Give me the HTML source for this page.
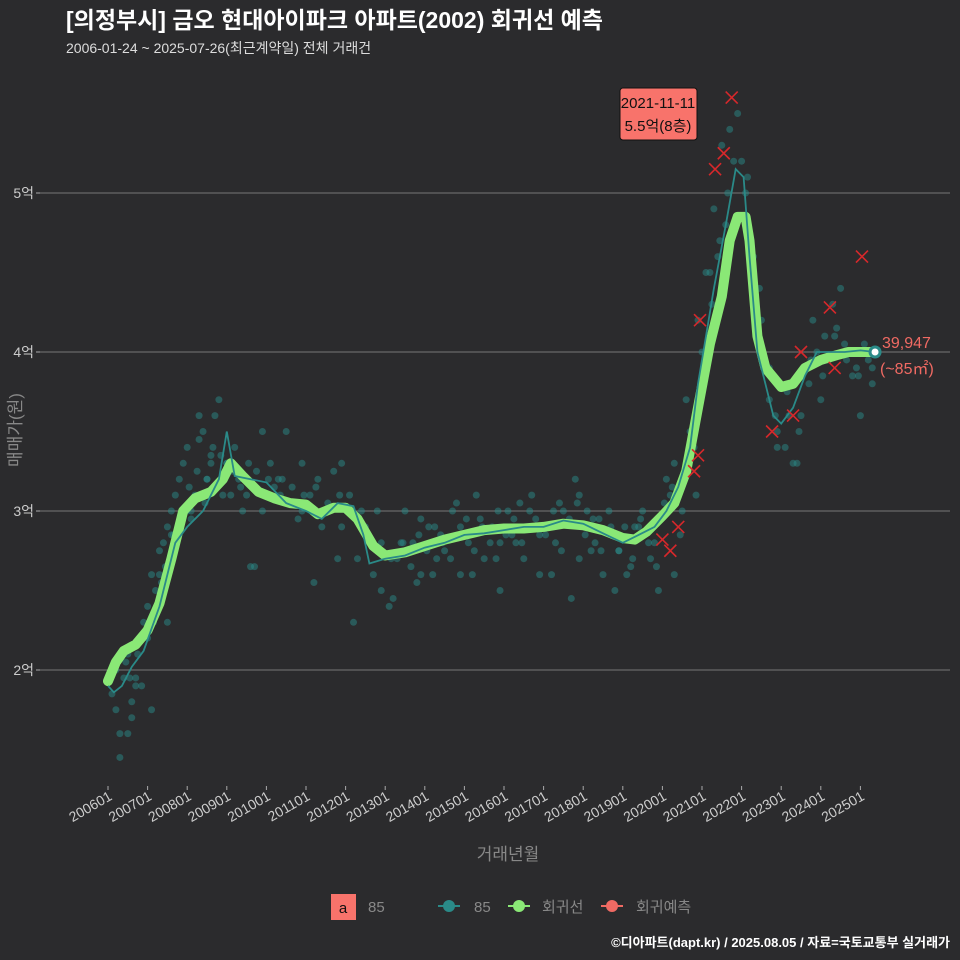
<!DOCTYPE html>
<html><head><meta charset="utf-8"><style>
html,body{margin:0;background:#2b2b2d;overflow:hidden;width:960px;height:960px;}
svg{display:block;}
svg text{font-family:"Liberation Sans","Noto Sans CJK KR",sans-serif;}
</style></head><body>
<svg id="c" width="960" height="960" viewBox="0 0 960 960" xmlns="http://www.w3.org/2000/svg">
<rect width="960" height="960" fill="#2b2b2d"/>
<text x="66" y="28" font-size="23" font-weight="bold" fill="#fff">[의정부시] 금오 현대아이파크 아파트(2002) 회귀선 예측</text>
<text x="66" y="53" font-size="14" fill="#ddd">2006-01-24 ~ 2025-07-26(최근계약일) 전체 거래건</text>
<g id="grid"></g>
<g id="pts"></g>
<g id="lines"></g>
<g id="xs"></g>
<g id="axes"></g>
<text transform="translate(21,430) rotate(-90)" text-anchor="middle" font-size="17" fill="#888">매매가(원)</text>
<text x="508" y="860" text-anchor="middle" font-size="17" fill="#888">거래년월</text>
<g>
<rect x="620" y="88" width="77" height="52" rx="3" fill="#f8736b" stroke="#111"/>
<text x="658" y="108" text-anchor="middle" font-size="15" fill="#111">2021-11-11</text>
<text x="658" y="131" text-anchor="middle" font-size="15" fill="#111">5.5억(8층)</text>
</g>
<text x="882" y="348" font-size="16" fill="#f06a63">39,947</text>
<text x="880" y="374" font-size="16" fill="#f06a63">(~85㎡)</text>
<g>
<rect x="331" y="894" width="25" height="26" fill="#f8736b"/>
<text x="343" y="913" text-anchor="middle" font-size="15" fill="#111">a</text>
<text x="368" y="912" font-size="15" fill="#888">85</text>
<g><line x1="438" y1="906" x2="460" y2="906" stroke="#2a8a88" stroke-width="2"/><circle cx="449" cy="906" r="6" fill="#2a8a88"/><text x="474" y="912" font-size="15" fill="#888">85</text></g>
<g><line x1="508" y1="906" x2="530" y2="906" stroke="#8ae876" stroke-width="2"/><circle cx="519" cy="906" r="6" fill="#8ae876"/><text x="542" y="912" font-size="15" fill="#888">회귀선</text></g>
<g><line x1="601" y1="906" x2="623" y2="906" stroke="#f06a63" stroke-width="2"/><circle cx="612" cy="906" r="6" fill="#f06a63"/><text x="636" y="912" font-size="15" fill="#888">회귀예측</text></g>
</g>
<text x="950" y="947" text-anchor="end" font-size="13" font-weight="bold" fill="#fff">©디아파트(dapt.kr) / 2025.08.05 / 자료=국토교통부 실거래가</text>
</svg>
<script>
const yTicks=[2,3,4,5];
const yTickLabels=["2억","3억","4억","5억"];
const xTickYears=[2006,2007,2008,2009,2010,2011,2012,2013,2014,2015,2016,2017,2018,2019,2020,2021,2022,2023,2024,2025];
const trendT=[2006.0,2006.2,2006.4,2006.7,2007.0,2007.3,2007.6,2007.9,2008.2,2008.6,2008.9,2009.1,2009.4,2009.8,2010.2,2010.6,2011.0,2011.3,2011.7,2012.0,2012.3,2012.7,2013.0,2013.5,2014.0,2014.5,2015.0,2015.5,2016.0,2016.5,2017.0,2017.5,2018.0,2018.5,2019.0,2019.3,2019.6,2020.0,2020.3,2020.6,2020.9,2021.2,2021.5,2021.7,2021.9,2022.1,2022.2,2022.4,2022.6,2022.8,2023.0,2023.3,2023.6,2024.0,2024.4,2024.7,2025.0,2025.37];
const trendV=[1.93,2.05,2.12,2.16,2.25,2.42,2.7,3.0,3.08,3.12,3.2,3.3,3.22,3.12,3.08,3.05,3.04,2.98,3.02,3.02,2.95,2.78,2.72,2.74,2.78,2.82,2.85,2.88,2.89,2.89,2.9,2.92,2.91,2.88,2.83,2.82,2.87,2.97,3.05,3.25,3.65,4.05,4.35,4.7,4.85,4.85,4.7,4.1,3.9,3.84,3.78,3.8,3.9,3.95,3.98,4.0,4.0,4.0];
const avgT=[2006.0,2006.15,2006.35,2006.6,2006.9,2007.3,2007.7,2008.0,2008.4,2008.8,2009.0,2009.2,2009.6,2010.0,2010.5,2011.0,2011.4,2011.8,2012.2,2012.45,2012.6,2013.0,2013.5,2014.0,2014.5,2015.0,2015.5,2016.0,2016.5,2017.0,2017.5,2018.0,2018.5,2019.0,2019.4,2019.8,2020.1,2020.4,2020.7,2020.9,2021.1,2021.3,2021.6,2021.85,2022.05,2022.2,2022.4,2022.6,2022.8,2023.0,2023.3,2023.6,2023.9,2024.2,2024.6,2025.0,2025.37];
const avgV=[1.9,1.86,1.9,2.02,2.12,2.4,2.8,2.9,3.0,3.2,3.5,3.22,3.2,3.18,3.05,3.0,2.95,3.05,3.03,2.85,2.67,2.7,2.72,2.77,2.8,2.85,2.86,2.88,2.9,2.9,2.94,2.92,2.86,2.8,2.85,2.9,3.0,3.15,3.4,3.8,4.1,4.4,4.8,5.15,5.1,4.6,4.0,3.8,3.6,3.55,3.65,3.85,4.0,4.0,4.0,4.01,4.0];
const xT=[2020.0,2020.2,2020.4,2020.8,2020.9,2020.95,2021.33,2021.55,2021.75,2022.77,2023.3,2023.5,2024.23,2024.35,2025.04];
const xV=[2.82,2.75,2.9,3.25,3.35,4.2,5.15,5.25,5.6,3.5,3.6,4.0,4.28,3.9,4.6];
const ptT=[2006.1,2006.2,2006.3,2006.4,2006.5,2006.6,2006.7,2006.8,2006.9,2007.0,2007.1,2007.2,2007.3,2007.4,2007.5,2007.6,2007.7,2007.8,2007.9,2008.0,2008.1,2008.2,2008.3,2008.4,2008.5,2008.6,2008.7,2008.8,2008.9,2009.0,2009.2,2009.3,2009.5,2009.7,2009.9,2010.1,2010.3,2010.5,2010.7,2010.9,2011.1,2011.3,2011.5,2011.7,2011.9,2012.1,2012.3,2012.5,2012.7,2012.9,2013.1,2013.3,2013.5,2013.7,2013.9,2014.1,2014.3,2014.5,2014.7,2014.9,2015.1,2015.3,2015.5,2015.7,2015.9,2016.1,2016.3,2016.5,2016.7,2016.9,2017.1,2017.3,2017.5,2017.7,2017.9,2018.1,2018.3,2018.5,2018.7,2018.9,2019.1,2019.3,2019.5,2019.7,2019.9,2020.1,2020.3,2020.5,2020.7,2020.9,2021.1,2021.3,2021.5,2021.7,2021.9,2022.1,2022.3,2022.5,2022.7,2022.9,2023.1,2023.3,2023.5,2023.7,2023.9,2024.1,2024.3,2024.5,2024.7,2024.9,2025.1,2025.3,
2006.3,2006.5,2006.7,2007.0,2007.3,2007.6,2008.0,2008.3,2008.6,2009.0,2009.4,2009.9,2010.4,2010.9,2011.4,2011.9,2012.4,2012.9,2013.4,2013.9,2014.4,2014.9,2015.4,2015.9,2016.4,2016.9,2017.4,2017.9,2018.4,2018.9,2019.4,2019.9,2020.3,2020.6,2021.0,2021.4,2021.8,2022.3,2022.7,2023.2,2023.6,2024.0,2024.4,2024.8,2025.2,
2006.2,2006.6,2007.1,2007.5,2008.1,2008.5,2009.1,2009.6,2010.2,2010.8,2011.2,2011.8,2012.2,2012.8,2013.2,2013.8,2014.2,2014.8,2015.2,2015.8,2016.2,2016.8,2017.2,2017.8,2018.2,2018.8,2019.2,2019.8,2020.2,2020.8,2021.2,2021.6,2022.0,2022.9,2023.4,2023.8,2024.2,2024.6,2025.0,2025.3,
2006.45,2006.55,2006.75,2006.85,2007.15,2007.35,2007.45,2007.65,2007.85,2008.05,2008.25,2008.45,2008.65,2008.85,2009.15,2009.35,2009.55,2009.75,2010.05,2010.35,2010.65,2010.95,2011.25,2011.55,2011.85,2012.15,2012.55,2012.85,2013.15,2013.45,2013.65,2013.85,2014.05,2014.25,2014.45,2014.65,2014.85,2015.05,2015.25,2015.45,2015.65,2015.85,2016.05,2016.25,2016.45,2016.65,2016.85,2017.05,2017.25,2017.45,2017.65,2017.85,2018.05,2018.25,2018.45,2018.65,2018.85,2019.05,2019.25,2019.45,2019.65,2019.85,2020.05,2020.25,2020.45,2020.65,2020.85,2021.05,2021.25,2021.45,2021.65,2022.15,2022.45,2022.85,2023.15,2023.45,2023.75,2024.05,2024.35,2024.65,2024.95,2025.25];
const ptV=[1.85,2.0,1.6,1.95,2.1,1.7,1.9,2.2,2.3,2.4,2.6,2.5,2.75,2.8,2.9,3.0,3.1,3.2,3.3,3.4,3.0,3.1,3.45,3.5,3.2,3.3,3.6,3.7,3.1,3.3,3.4,3.2,3.1,2.65,3.0,3.3,3.2,3.5,3.05,3.0,3.1,3.2,3.0,3.25,2.9,3.1,2.7,2.9,2.6,2.5,2.4,2.7,3.0,2.8,2.6,2.9,2.7,2.75,3.0,2.6,2.8,3.1,2.7,2.9,2.5,3.0,2.8,2.7,3.1,2.6,2.9,2.8,3.0,2.45,2.7,3.0,2.8,2.6,2.9,2.75,2.6,2.9,3.0,2.7,2.5,3.2,2.6,3.0,3.5,4.2,4.5,4.9,5.3,5.4,5.5,5.0,4.6,4.2,3.7,3.5,3.4,3.3,3.6,3.8,4.0,4.1,4.3,4.4,4.0,3.9,4.05,3.8,
1.45,1.6,1.95,2.2,2.6,2.85,3.0,3.6,3.35,3.3,3.0,3.5,3.2,3.3,2.9,3.3,3.0,2.8,2.8,2.95,2.85,2.9,2.95,2.8,3.05,2.85,3.05,3.1,2.95,2.75,2.9,2.95,3.3,3.7,4.0,4.6,5.2,4.3,3.9,3.6,3.9,3.7,4.15,3.85,3.95,
1.75,1.8,1.75,2.3,2.95,3.2,3.1,2.65,3.15,2.95,2.55,2.7,2.3,3.0,2.45,2.55,2.6,3.05,2.6,2.7,2.85,2.95,2.6,3.2,2.75,2.5,2.65,2.8,3.1,3.4,4.5,4.8,5.2,3.4,3.3,4.2,3.95,4.05,3.6,3.9,
2.05,1.95,2.1,1.9,2.3,2.55,2.65,2.85,2.95,3.15,3.25,3.05,3.4,3.35,3.25,3.15,3.3,3.25,3.2,3.1,3.15,3.1,3.15,3.05,3.1,3.0,2.85,2.75,2.7,2.8,2.65,2.85,2.75,2.9,2.8,2.7,2.85,2.95,2.75,2.9,2.8,3.0,2.85,2.95,2.8,3.0,2.9,2.85,3.0,2.75,2.95,3.05,2.85,2.95,2.75,3.0,2.85,2.9,2.7,2.95,2.8,2.65,3.05,3.15,2.85,3.3,3.1,3.8,4.3,4.7,5.0,5.1,4.4,3.6,3.75,3.5,3.95,3.85,4.1,3.95,3.85,4.0];
const NS="http://www.w3.org/2000/svg";
function X(t){return 108+(t-2006)*39.6;}
function Y(v){return 670-(v-2)*159;}
function mk(tag,parent,attrs){const e=document.createElementNS(NS,tag);for(const k in attrs)e.setAttribute(k,attrs[k]);document.getElementById(parent).appendChild(e);return e;}
yTicks.forEach((v,i)=>{
  const g=mk('line','grid',{x1:40,x2:950,y1:Y(v),y2:Y(v),stroke:'#777','stroke-width':1});
  
  
  const tk=mk('line','axes',{x1:36,x2:40,y1:Y(v),y2:Y(v),stroke:'#aaa'});
  
  
  const t=mk('text','axes',{x:34,y:Y(v)+5,'text-anchor':'end','font-size':14,fill:'#ccc'});
  t.textContent=yTickLabels[i];
  
  
});
xTickYears.forEach(yr=>{
  const x=X(yr);
  const tk=mk('line','axes',{x1:x,x2:x,y1:786,y2:790,stroke:'#aaa'});
  
  
  const t=mk('text','axes',{transform:`translate(${x+5},${799}) rotate(-30)`,'text-anchor':'end','font-size':14,fill:'#ccc'});
  t.textContent=yr+'01';
  
  
});
ptT.forEach((t,i)=>{
  const c=mk('circle','pts',{cx:X(t),cy:Y(ptV[i]),r:3.5,fill:'#2a8a88','fill-opacity':0.5});
  
  
});
const tp=trendT.map((t,i)=>X(t).toFixed(1)+','+Y(trendV[i]).toFixed(1)).join(' ');
const tl=mk('polyline','lines',{points:tp,fill:'none',stroke:'#8ae876','stroke-width':10,'stroke-linejoin':'round','stroke-linecap':'round'});


const ap=avgT.map((t,i)=>X(t).toFixed(1)+','+Y(avgV[i]).toFixed(1)).join(' ');
const al=mk('polyline','lines',{points:ap,fill:'none',stroke:'#2a8a88','stroke-width':1.8});


xT.forEach((t,i)=>{
  const x=X(t),y=Y(xV[i]);
  const p=mk('path','xs',{d:`M${x-6},${y-6}L${x+6},${y+6}M${x-6},${y+6}L${x+6},${y-6}`,stroke:'#d6282b','stroke-width':1.6});
  
  
});
const lt=trendT[trendT.length-1],lv=trendV[trendV.length-1];
const e=mk('circle','lines',{cx:X(lt),cy:Y(lv),r:5,fill:'#fff',stroke:'#2a8a88','stroke-width':3});


</script>
</body></html>
